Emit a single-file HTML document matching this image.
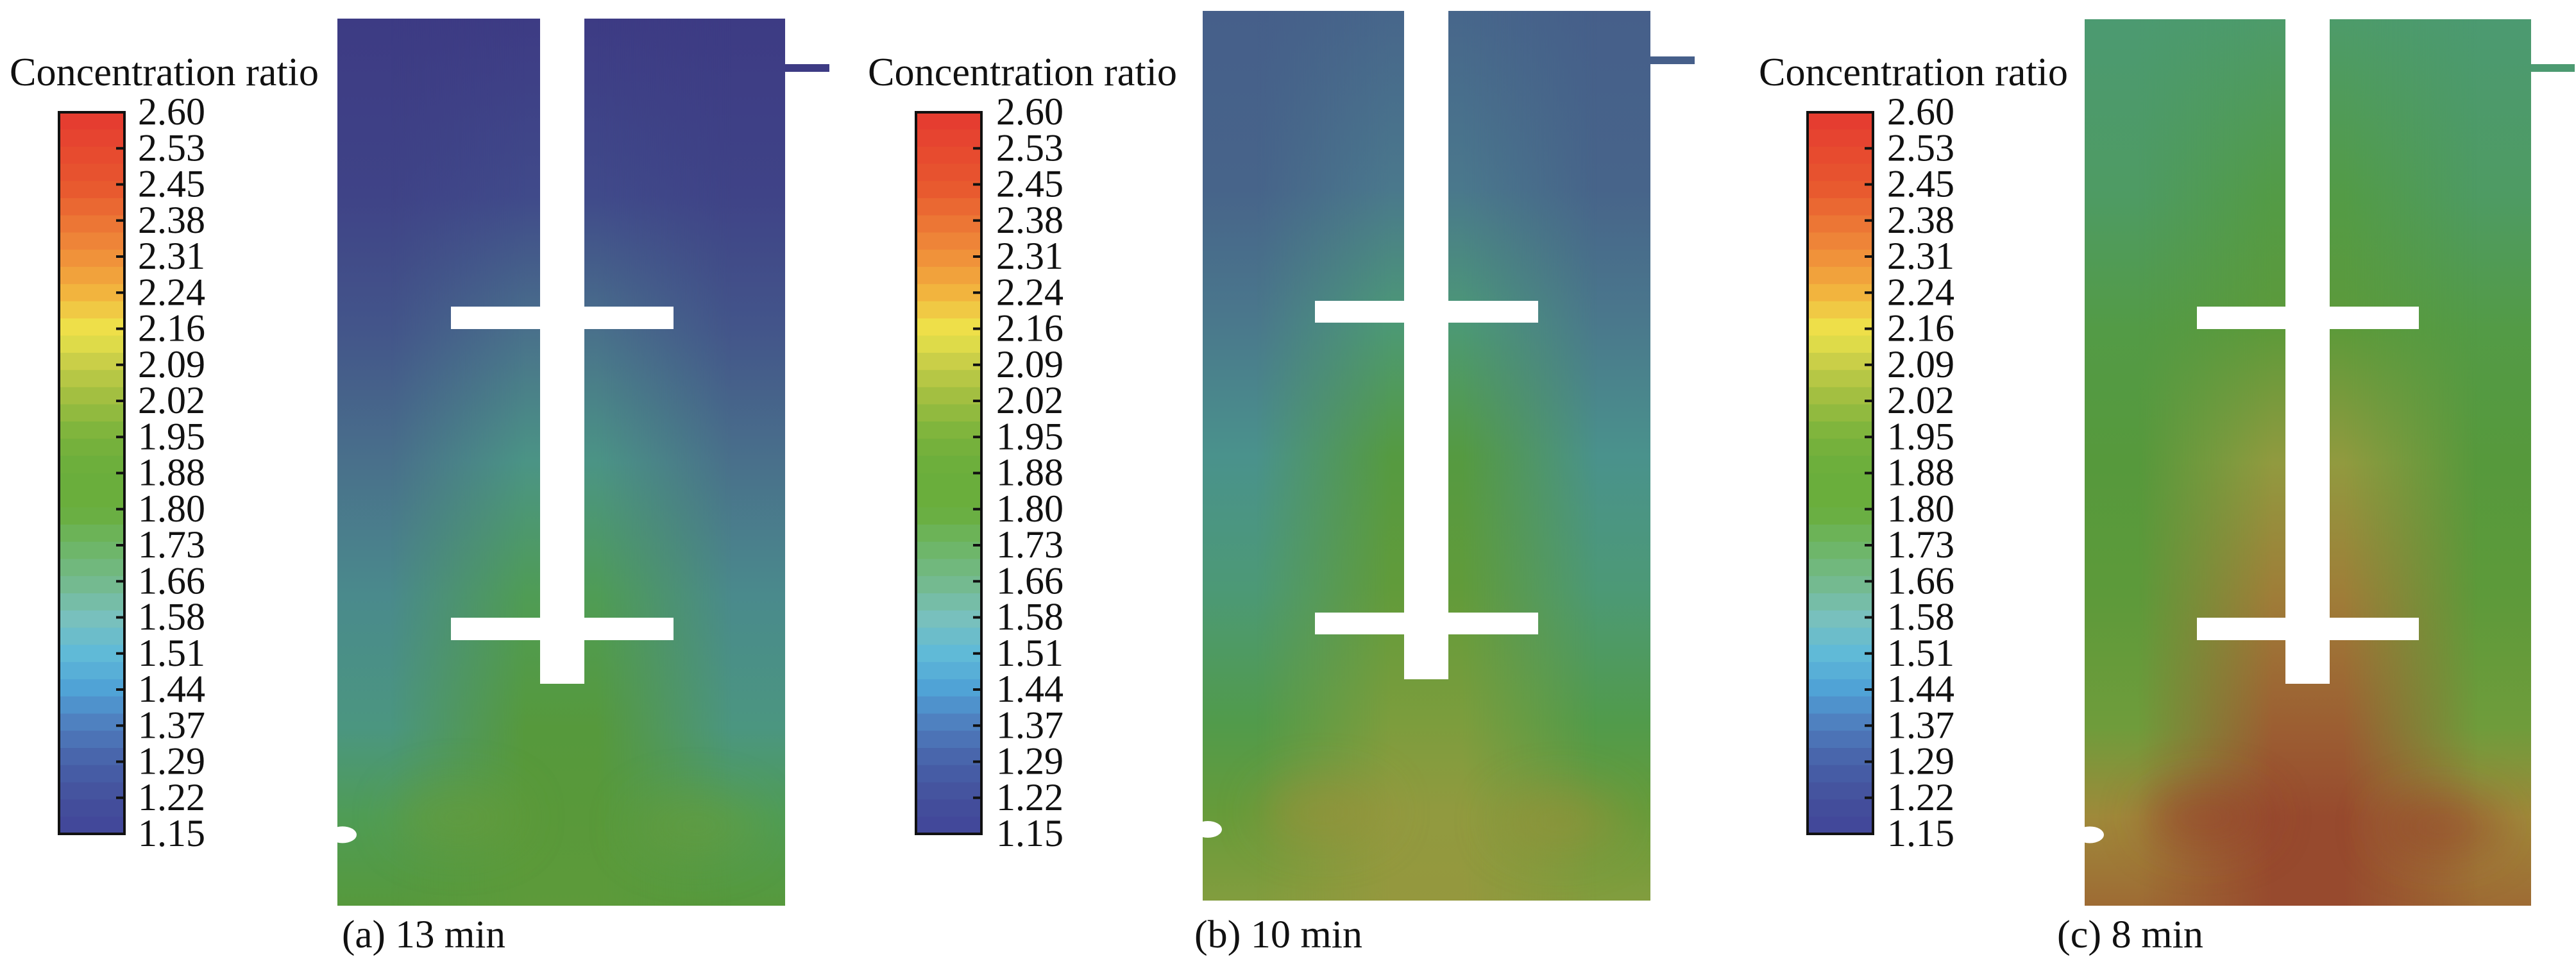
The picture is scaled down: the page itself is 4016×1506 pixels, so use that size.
<!DOCTYPE html>
<html><head><meta charset="utf-8"><style>
html,body{margin:0;padding:0;background:#fff;}
svg{display:block;}
text{font-family:"Liberation Serif","DejaVu Serif","Times New Roman",serif;}
</style></head><body>
<svg id="fig" width="4016" height="1506" viewBox="0 0 4016 1506" xmlns="http://www.w3.org/2000/svg">
<defs>
<filter id="blur" x="-60%" y="-200%" width="220%" height="500%"><feGaussianBlur stdDeviation="35"/></filter>
<linearGradient id="cmask" x1="0" x2="1" y1="0" y2="0">
<stop offset="0" stop-color="#000"/><stop offset="0.12" stop-color="#000"/><stop offset="0.42" stop-color="#fff"/><stop offset="0.58" stop-color="#fff"/><stop offset="0.88" stop-color="#000"/><stop offset="1" stop-color="#000"/>
</linearGradient>
</defs>
</svg>
<script>
// colorbar data
const tickLabels = ["2.60","2.53","2.45","2.38","2.31","2.24","2.16","2.09","2.02","1.95","1.88","1.80","1.73","1.66","1.58","1.51","1.44","1.37","1.29","1.22","1.15"];
const cmapValues = [2.60,2.45,2.31,2.24,2.16,2.09,2.02,1.95,1.88,1.80,1.73,1.66,1.58,1.51,1.44,1.37,1.29,1.22,1.15];
const cmapColors = ["#e53a30","#e8582f","#f0903a","#f2b23e","#ede44a","#c4cc48","#9dbd40","#7bb33c","#6aae3c","#6aae3c","#6db565","#74b98a","#78c0be","#5fbad8","#4fa2d6","#4f7fbf","#4760a8","#44509c","#41469a"];
// rendered field palette (muted, as in the contour plots)
const fieldValues = [2.45,2.35,2.25,2.15,2.05,1.95,1.85,1.75,1.65,1.55,1.45,1.35,1.25,1.15];
const fieldColors = ["#943e2c","#9a5530","#a07436","#9e923c","#8c9e40","#6c9c3a","#57993a","#4f9c52","#4c9a74","#4a928c","#4a788c","#465f8a","#404a8a","#3d3b84"];
// field data: concentration ratio sampled at relative heights
const fieldHeights = [0,0.2,0.35,0.5,0.65,0.8,0.9,1];
const sideA   = [1.15,1.20,1.30,1.42,1.52,1.60,1.74,1.84];
const centerA = [1.15,1.25,1.42,1.58,1.74,1.84,1.86,1.88];
const sideB   = [1.35,1.37,1.45,1.55,1.64,1.78,1.92,2.02];
const centerB = [1.38,1.45,1.64,1.82,1.90,2.00,2.08,2.10];
const sideC   = [1.66,1.70,1.80,1.84,1.88,1.96,2.18,2.28];
const centerC = [1.68,1.80,1.88,2.08,2.22,2.32,2.40,2.40];
const captions = ["(a) 13 min","(b) 10 min","(c) 8 min"];

const NS="http://www.w3.org/2000/svg";
const svg=document.getElementById('fig');
const defs=svg.querySelector('defs');
function mk(tag,attrs,parent){const e=document.createElementNS(NS,tag);for(const k in attrs)e.setAttribute(k,attrs[k]);(parent||svg).appendChild(e);return e;}
function hex(c){return [parseInt(c.substr(1,2),16),parseInt(c.substr(3,2),16),parseInt(c.substr(5,2),16)];}
function lut(v,vals,cols){
  if(v>=vals[0])return cols[0];
  for(let i=0;i<vals.length-1;i++){
    const a=vals[i],b=vals[i+1];
    if(v<=a&&v>=b){const t=(a-v)/(a-b);const ca=hex(cols[i]),cb=hex(cols[i+1]);
      return 'rgb('+ca.map((x,j)=>Math.round(x+(cb[j]-x)*t)).join(',')+')';}
  }
  return cols[cols.length-1];
}
const cmap=v=>lut(v,cmapValues,cmapColors);
const fmap=v=>lut(v,fieldValues,fieldColors);
const vmax=2.60,vmin=1.15;

const panels=[
 {side:sideA,center:centerA,dx:526,dy:29,dw:698,dh:1383,sx:842,sw:69,sb:1066,ix:703,iw:347,iy1:478,iy2:963,ih:35,py:100,pw:69,cbx:92,lx:215,tx:15,capx:533},
 {side:sideB,center:centerB,dx:1875,dy:17,dw:698,dh:1387,sx:2189,sw:69,sb:1059,ix:2050,iw:348,iy1:469,iy2:955,ih:34,py:88,pw:69,cbx:1428,lx:1553,tx:1353,capx:1862},
 {side:sideC,center:centerC,dx:3250,dy:30,dw:696,dh:1382,sx:3563,sw:69,sb:1066,ix:3425,iw:346,iy1:478,iy2:963,ih:35,py:100,pw:68,cbx:2818,lx:2942,tx:2742,capx:3207}
];
const cbTop=175,cbBot=1300,cbW=102;

panels.forEach((p,pi)=>{
  const g=mk('g',{});
  
  
  const t=mk('text',{x:p.tx,y:133,'font-size':62,fill:'#111',textLength:482,lengthAdjust:'spacingAndGlyphs'},g);t.textContent='Concentration ratio';
  
  
  const cb=mk('g',{},g);
  
  
  const nb=42,bh=(cbBot-cbTop)/nb;
  for(let i=0;i<nb;i++){
    const v=vmax-(i+0.5)*(vmax-vmin)/nb;
    const r=mk('rect',{x:p.cbx,y:cbTop+i*bh,width:cbW,height:bh+0.6,fill:cmap(v)},cb);
    
    
  }
  mk('rect',{x:p.cbx,y:cbTop,width:cbW,height:cbBot-cbTop,fill:'none',stroke:'#111','stroke-width':4},cb);
  const step=(cbBot-cbTop)/(tickLabels.length-1);
  tickLabels.forEach((lab,i)=>{
    const y=cbTop+i*step;
    if(i>0&&i<tickLabels.length-1){const tk=mk('line',{x1:p.cbx+cbW-13,x2:p.cbx+cbW,y1:y,y2:y,stroke:'#111','stroke-width':4},cb);
      
      }
    const tl=mk('text',{x:p.lx,y:y+19,'font-size':60,fill:'#111',textLength:105,lengthAdjust:'spacingAndGlyphs'},g);tl.textContent=lab;
    
    
  });
  const gs=mk('linearGradient',{id:'gs'+pi,x1:0,x2:0,y1:0,y2:1},defs);
  const gc=mk('linearGradient',{id:'gc'+pi,x1:0,x2:0,y1:0,y2:1},defs);
  fieldHeights.forEach((h,i)=>{
    mk('stop',{offset:h,'stop-color':fmap(p.side[i])},gs);
    mk('stop',{offset:h,'stop-color':fmap(p.center[i])},gc);
  });
  const m=mk('mask',{id:'m'+pi},defs);
  mk('rect',{x:p.dx,y:p.dy,width:p.dw,height:p.dh,fill:'url(#cmask)'},m);
  const cp=mk('clipPath',{id:'cp'+pi},defs);
  mk('rect',{x:p.dx,y:p.dy,width:p.dw,height:p.dh},cp);
  const fi=mk('g',{'clip-path':'url(#cp'+pi+')'},g);
  
  
  mk('rect',{x:p.dx,y:p.dy,width:p.dw,height:p.dh,fill:'url(#gs'+pi+')'},fi);
  mk('rect',{x:p.dx,y:p.dy,width:p.dw,height:p.dh,fill:'url(#gc'+pi+')',mask:'url(#m'+pi+')'},fi);
  const hot=p.center[p.center.length-1]+0.06;
  [[0.27,0.9],[0.8,0.91]].forEach(([fx,fy])=>{
    const e=mk('ellipse',{cx:p.dx+fx*p.dw,cy:p.dy+fy*p.dh,rx:p.dw*0.14,ry:p.dh*0.035,fill:fmap(hot),opacity:0.55,filter:'url(#blur)'},fi);
    
    
  });
  const pipe=mk('rect',{x:p.dx+p.dw,y:p.py,width:p.pw,height:12,fill:fmap(p.side[0])},g);
  
  
  const sh=mk('rect',{x:p.sx,y:p.dy-2,width:p.sw,height:p.sb-p.dy+2,fill:'#fff'},g);
  
  
  [p.iy1,p.iy2].forEach((iy,k)=>{
    const b=mk('rect',{x:p.ix,y:iy,width:p.iw,height:p.ih,fill:'#fff'},g);
    
    
  });
  const inl=mk('ellipse',{cx:p.dx+8,cy:p.dy+p.dh*0.92,rx:22,ry:13,fill:'#fff'},g);
  
  
  const c=mk('text',{x:p.capx,y:1477,'font-size':61,fill:'#111',textLength:[255,262,228][pi],lengthAdjust:'spacingAndGlyphs'},g);c.textContent=captions[pi];
  
  
});
</script>
</body></html>
